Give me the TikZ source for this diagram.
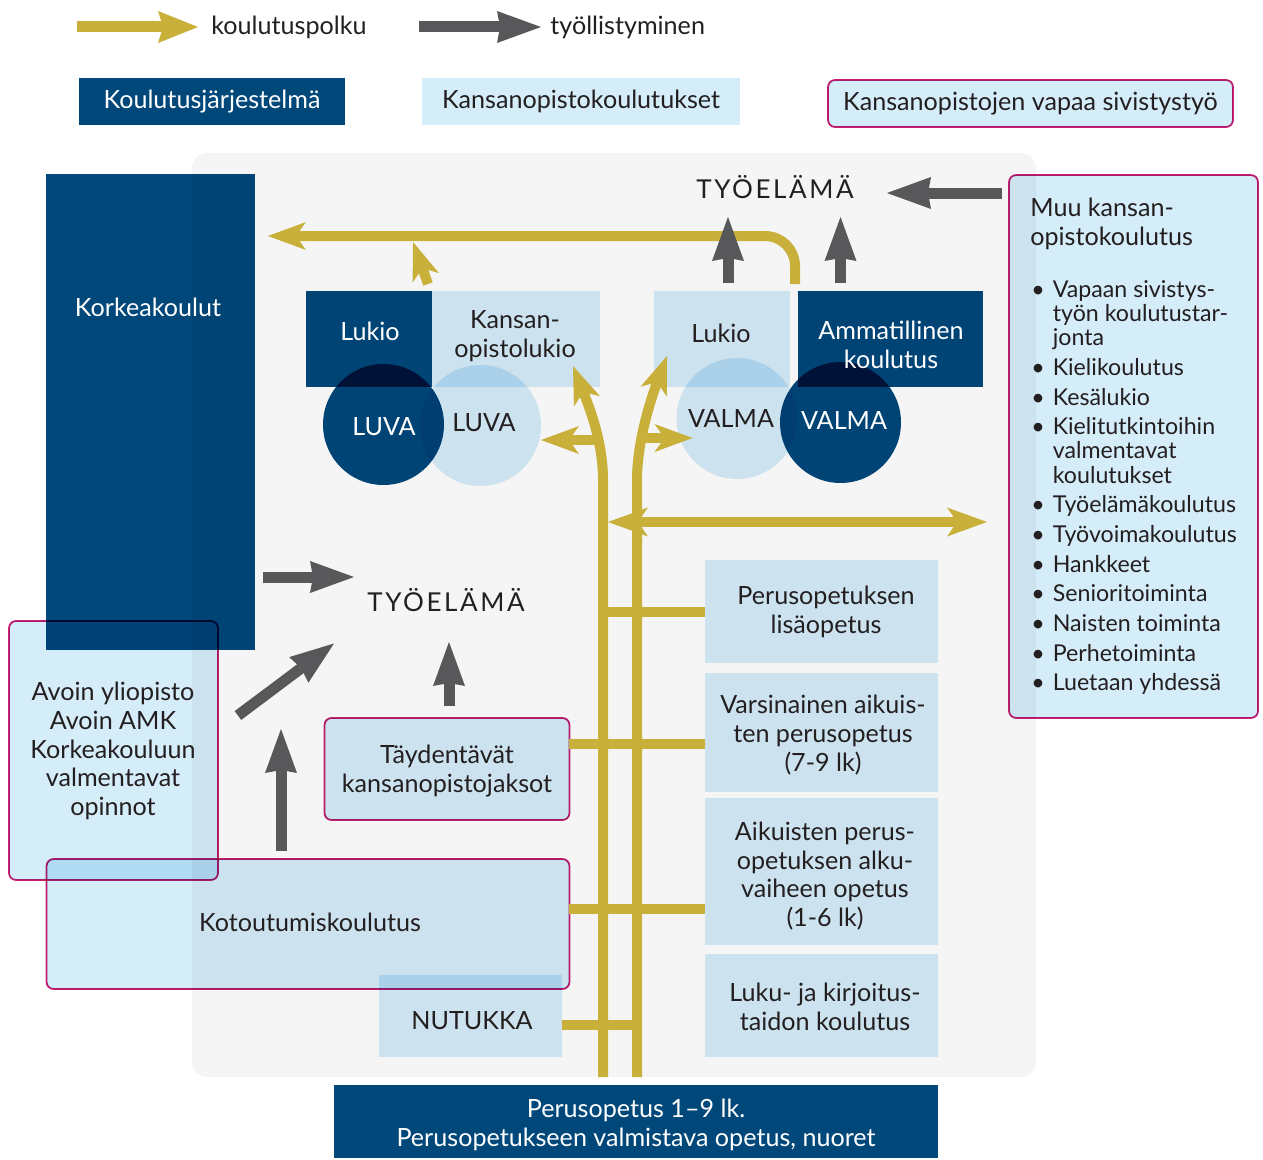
\documentclass[tikz,border=0pt]{standalone}
\usepackage{fontspec}
\setmainfont{Lato}
\usetikzlibrary{calc}
\usetikzlibrary{positioning}
\usetikzlibrary{arrows.meta}
\definecolor{darkblue}	{RGB}{0,71,122}
\definecolor{lightblue}	{RGB}{213,236,249}
\definecolor{gold1}	{RGB}{201,176,58}
\definecolor{gray1}	{RGB}{88,88,90}
\definecolor{magenta1}	{RGB}{204,30,112}
\definecolor{panel1}	{RGB}{245,245,245}
\definecolor{ink}	{RGB}{35,31,32}
\tikzstyle{area}=	[inner sep=0pt, outer sep=0pt, draw=none]
\tikzstyle{dbox}=	[area, fill=darkblue]
\tikzstyle{lbox}=	[area, fill=lightblue]
\tikzstyle{kbox}=	[area, fill=lightblue, draw=magenta1, line width=1pt, rounded corners=0.14cm]
\tikzstyle{dcirc}=	[area, circle, fill=darkblue, minimum size=2.42cm]
\tikzstyle{lcirc}=	[area, circle, fill=lightblue, minimum size=2.42cm]
\tikzstyle{txt}=	[inner sep=0pt, align=center, text=ink, font=\fontsize{14.3}{16.4}\selectfont]
\tikzstyle{wtxt}=	[txt, text=white]
\tikzstyle{caps}=	[txt, font=\fontsize{14.8}{17}\selectfont\addfontfeatures{LetterSpace=10}]
\tikzstyle{listtxt}=	[txt, align=left, font=\fontsize{13.2}{13.6}\selectfont]
\tikzstyle{ypath}=	[draw=gold1, line width=0.2cm]
\tikzstyle{yarrow}=	[ypath, -{Stealth[length=0.76cm, width=0.56cm, inset=0.2cm, line width=0pt]}]
\tikzstyle{ydouble}=	[ypath, {Stealth[length=0.8cm, width=0.58cm, inset=0.2cm, line width=0pt]}-{Stealth[length=0.8cm, width=0.58cm, inset=0.2cm, line width=0pt]}]
\tikzstyle{legy}=	[draw=gold1, line width=0.22cm, -{Stealth[length=0.8cm, width=0.64cm, inset=0.1cm, line width=0pt]}]
\tikzstyle{garrow}=	[draw=gray1, line width=0.22cm, -{Stealth[length=0.88cm, width=0.64cm, inset=0.06cm, line width=0pt]}]

\begin{document}
\begin{tikzpicture}[x=0.02cm, y=-0.02cm]
	\useasboundingbox (0,0) rectangle (1263,1159);

	%%% grey background
	\fill[panel1, rounded corners=0.3cm] (192,153) rectangle (1036,1077);

	%%% boxes and circles
	\begin{scope}[blend mode=multiply]
	% legend
	\node[dbox, minimum width=5.32cm, minimum height=0.94cm] (legKj) at (212,101.5) {};
	\node[lbox, minimum width=6.36cm, minimum height=0.94cm] (legKo) at (581,101.5) {};
	\node[kbox, minimum width=8.1cm, minimum height=0.94cm] (legVs) at (1030.5,103.5) {};
	% left column
	\node[dbox, minimum width=4.18cm, minimum height=9.52cm] (korkea) at (150.5,412) {};
	\node[kbox, minimum width=4.18cm, minimum height=5.18cm] (avoin) at (113.5,750.5) {};
	\node[kbox, minimum width=10.46cm, minimum height=2.6cm] (kotout) at (308,924) {};
	\node[lbox, minimum width=3.66cm, minimum height=1.64cm] (nutukka) at (470.5,1016) {};
	\node[kbox, minimum width=4.9cm, minimum height=2.04cm] (tayd) at (447,769) {};
	% upper row
	\node[dbox, minimum width=2.52cm, minimum height=1.92cm] (lukioL) at (369,339) {};
	\node[lbox, minimum width=3.36cm, minimum height=1.92cm] (kansL) at (516,339) {};
	\node[lbox, minimum width=2.72cm, minimum height=1.92cm] (lukioR) at (722,339) {};
	\node[dbox, minimum width=3.7cm, minimum height=1.92cm] (amm) at (890.5,339) {};
	\node[lcirc] (luvaL) at (480.5,425.5) {};
	\node[dcirc] (luvaD) at (383.5,424.5) {};
	\node[lcirc] (valmaL) at (737,418.5) {};
	\node[dcirc] (valmaD) at (840.5,422.5) {};
	% right column
	\node[lbox, minimum width=4.66cm, minimum height=2.06cm] (lisa) at (821.5,611.5) {};
	\node[lbox, minimum width=4.66cm, minimum height=2.38cm] (varsin) at (821.5,732.5) {};
	\node[lbox, minimum width=4.66cm, minimum height=2.94cm] (alku) at (821.5,871.5) {};
	\node[lbox, minimum width=4.66cm, minimum height=2.06cm] (luku) at (821.5,1005.5) {};
	\node[kbox, minimum width=4.98cm, minimum height=10.86cm] (muu) at (1133.5,446.5) {};
	% bottom
	\node[dbox, minimum width=12.08cm, minimum height=1.46cm] (perus) at (636,1121.5) {};
	\end{scope}

	%%% texts
	% legend
	\node[txt, anchor=west] (legYt) at (211,27) {koulutuspolku};
	\node[txt, anchor=west] (legGt) at (550,27) {työllistyminen};
	\node[wtxt] (legKjT) at (legKj) {Koulutusjärjestelmä};
	\node[txt] (legKoT) at (legKo) {Kansanopistokoulutukset};
	\node[txt] (legVsT) at (legVs) {Kansanopistojen vapaa sivistystyö};
	% upper part
	\node[caps] (tyoTop) at (775,187) {TYÖELÄMÄ};
	\node[wtxt] (korkeaT) at (148,307) {Korkeakoulut};
	\node[wtxt] (lukioLT) at (370,331) {Lukio};
	\node[txt] (kansLT) at (515,336) {Kansan-\\opistolukio};
	\node[txt] (lukioRT) at (721,333) {Lukio};
	\node[wtxt] (ammT) at (891,345) {Ammatillinen\\koulutus};
	\node[wtxt] (luvaDT) at (384,427) {LUVA};
	\node[txt] (luvaLT) at (484,423) {LUVA};
	\node[txt] (valmaLT) at (731,418) {VALMA};
	\node[wtxt] (valmaDT) at (844,420) {VALMA};
	% lower part
	\node[caps] (tyoMid) at (446,600) {TYÖELÄMÄ};
	\node[txt] (avoinT) at (113,751) {Avoin yliopisto\\Avoin AMK\\Korkeakouluun\\valmentavat\\opinnot};
	\node[txt] (taydT) at (447,771) {Täydentävät\\kansanopistojaksot};
	\node[txt] (kotoutT) at (310,922) {Kotoutumiskoulutus};
	\node[txt] (nutukkaT) at (472,1021) {NUTUKKA};
	\node[txt] (lisaT) at (826,612) {Perusopetuksen\\lisäopetus};
	\node[txt] (varsinT) at (823,735) {Varsinainen aikuis-\\ten perusopetus\\(7-9 lk)};
	\node[txt] (alkuT) at (825,876) {Aikuisten perus-\\opetuksen alku-\\vaiheen opetus\\(1-6 lk)};
	\node[txt] (lukuT) at (825,1007) {Luku- ja kirjoitus-\\taidon koulutus};
	\node[wtxt] (perusT) at (636,1125) {Perusopetus 1–9 lk.\\Perusopetukseen valmistava opetus, nuoret};
	% right box
	\node[txt, align=left, anchor=north west] (muuT) at (1030,198) {Muu kansan-\\opistokoulutus};
	\node[listtxt, anchor=north west] (muuL) at (1031,280) {%
		\begin{tabular}{@{}l@{\hspace{0.16cm}}l@{}}
		\textbullet & Vapaan sivistys-\\ & työn koulutustar-\\ & jonta\\[3.1pt]
		\textbullet & Kielikoulutus\\[3.1pt]
		\textbullet & Kesälukio\\[3.1pt]
		\textbullet & Kielitutkintoihin\\ & valmentavat\\ & koulutukset\\[3.1pt]
		\textbullet & Työelämäkoulutus\\[3.1pt]
		\textbullet & Työvoimakoulutus\\[3.1pt]
		\textbullet & Hankkeet\\[3.1pt]
		\textbullet & Senioritoiminta\\[3.1pt]
		\textbullet & Naisten toiminta\\[3.1pt]
		\textbullet & Perhetoiminta\\[3.1pt]
		\textbullet & Luetaan yhdessä
		\end{tabular}};

	%%% legend arrows
	\draw[legy] ($(legYt.west)+(-134,0)$) -- ($(legYt.west)+(-13,0)$);
	\draw[garrow] ($(legGt.west)+(-131,0)$) -- ($(legGt.west)+(-9,0)$);

	%%% koulutuspolku
	\coordinate (vl) at (603,1077);
	\coordinate (vr) at (637,1077);
	\coordinate (vlEnd) at (573,366);
	\coordinate (vrEnd) at (667,356);
	\coordinate (ytop) at (795,284);
	% links to the right column and the left boxes
	\draw[ypath] (vl |- lisa.west) -- (lisa.west);
	\draw[ypath] (tayd.east |- 0,744) -- (varsin.west |- 0,744);
	\draw[ypath] (kotout.east |- 0,909) -- (alku.west |- 0,909);
	\draw[ypath] (nutukka.east |- 0,1025) -- (vr |- 0,1025);
	% main curves
	\draw[yarrow] (vl) -- (vl |- 0,480) .. controls (vl |- 0,440) and ($(vlEnd)+(15,38)$) .. (vlEnd);
	\draw[yarrow] (vr) -- (vr |- 0,480) .. controls (vr |- 0,440) and ($(vrEnd)+(-15,40)$) .. (vrEnd);
	% side branches
	\draw[yarrow] ($(vl |- 0,440)+(-7,0)$) -- (luvaL.east |- 0,440);
	\draw[yarrow] ($(vr |- 0,438)+(5,0)$) -- ($(valmaL.west |- 0,438)+(16,0)$);
	\draw[ydouble] ($(vl |- 0,522)+(5,0)$) -- ($(muu.west |- 0,522)+(-22,0)$);
	% to korkeakoulut
	\draw[yarrow, rounded corners=0.6cm] (ytop) |- ($(korkea.east |- 0,236)+(13,0)$);
	\draw[yarrow] ($(kansL.north west)+(-4,-7)$) -- ($(kansL.north west)+(-19,-49)$);

	%%% tyollistyminen
	\draw[garrow] ($(muu.west |- 0,193)+(-7,0)$) -- ($(muu.west |- 0,193)+(-122,0)$);
	\draw[garrow] ($(lukioR.north)+(6,-8)$) -- ($(lukioR.north)+(6,-74)$);
	\draw[garrow] ($(valmaD.center |- amm.north)+(0,-8)$) -- ($(valmaD.center |- amm.north)+(0,-74)$);
	\draw[garrow] ($(korkea.east |- 0,577)+(8,0)$) -- ($(korkea.east |- 0,577)+(99,0)$);
	\draw[garrow] ($(avoin.east)+(20,-35)$) -- ($(avoin.east)+(116,-107)$);
	\draw[garrow] ($(kotout.north)+(-27,-8)$) -- ($(kotout.north)+(-27,-130)$);
	\draw[garrow] ($(tayd.north)+(2,-12)$) -- ($(tayd.north)+(2,-76)$);

\end{tikzpicture}
\end{document}
